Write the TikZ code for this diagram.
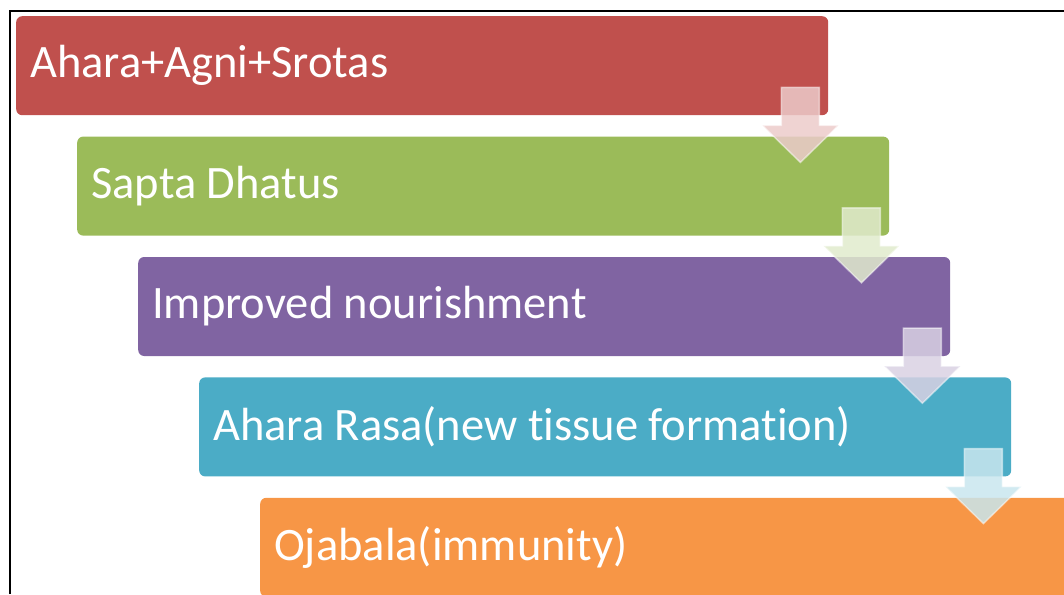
\documentclass[tikz,border=0pt]{standalone}
\usepackage{fontspec}
\setmainfont[Ligatures=NoCommon]{Carlito}
\usetikzlibrary{calc}
\definecolor{boxred}{HTML}{C0504D}
\definecolor{boxgreen}{HTML}{9BBB59}
\definecolor{boxpurple}{HTML}{8064A2}
\definecolor{boxteal}{HTML}{4BACC6}
\definecolor{boxorange}{HTML}{F79646}
\tikzset{
  stage/.style={anchor=north west, rounded corners=6pt, text=white,
    text width=784pt, inner xsep=14pt, inner ysep=0pt, minimum height=99pt,
    align=flush left, font=\fontsize{46.5}{56}\selectfont},
  downarrow/.style={draw=white, draw opacity=0.5, line width=1.5pt,
    fill opacity=0.85, line join=miter}
}
\begin{document}
\begin{tikzpicture}[x=1pt,y=-1pt]
\useasboundingbox (0,0) rectangle (1064,594);
\clip (0,0) rectangle (1064,594);
\draw[line width=2pt] (10,594) -- (10,11) -- (1064,11);
\node[stage, fill=boxred] (ahara) at (16,16) {Ahara+Agni+Srotas};
\node[stage, fill=boxgreen] (sapta) at ($(ahara.south west)+(61,21)$) {Sapta Dhatus};
\node[stage, fill=boxpurple] (nourish) at ($(sapta.south west)+(61,21)$) {Improved nourishment};
\node[stage, fill=boxteal] (rasa) at ($(nourish.south west)+(61,21)$) {Ahara Rasa(new tissue formation)};
\node[stage, fill=boxorange] (ojas) at ($(rasa.south west)+(61,21)$) {Ojabala(immunity)};
% block arrows between the stages
\foreach \s/\c in {ahara/boxred,sapta/boxgreen,nourish/boxpurple,rasa/boxteal}
  \draw[downarrow, fill=\c!30!white] ($(\s.south east)+(-47,-28)$)
    -- ++(38,0) -- ++(0,38) -- ++(19,0) -- ++(-38,37) -- ++(-38,-37) -- ++(19,0) -- cycle;
\end{tikzpicture}
\end{document}
